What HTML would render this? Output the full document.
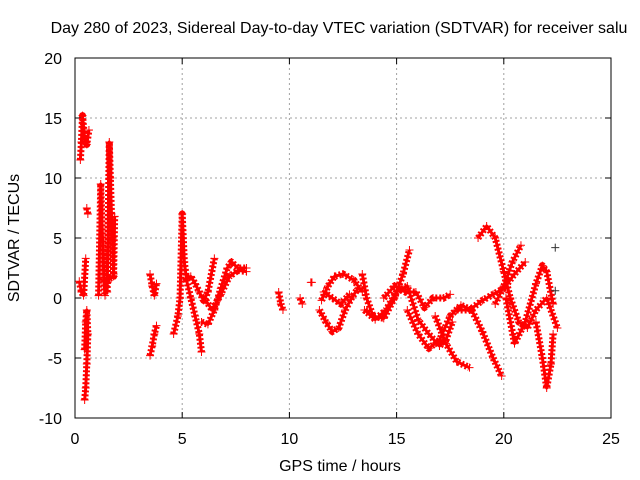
<!DOCTYPE html>
<html><head><meta charset="utf-8"><style>
body{margin:0;background:#fff;}
svg{display:block;font-family:"Liberation Sans",sans-serif;}
</style></head><body>
<svg id="chart" width="640" height="480">
<text x="339" y="33" font-size="16" text-anchor="middle">Day 280 of 2023, Sidereal Day-to-day VTEC variation (SDTVAR) for receiver salu</text>
<text x="340" y="471" font-size="16" text-anchor="middle">GPS time / hours</text>
<text transform="translate(19,238) rotate(-90)" font-size="16" text-anchor="middle">SDTVAR / TECUs</text>
<g id="grid"></g><g id="axes"></g><g id="marks"></g>
</svg>
<script>
const xTicks=[0,5,10,15,20,25];
const yTicks=[-10,-5,0,5,10,15,20];
const seriesRed=[
[[0.25,11.5],[0.3,13],[0.35,15.2],[0.45,13.3],[0.55,12.8],[0.65,14]],
[[0.2,1.4],[0.3,0.5],[0.4,0.2],[0.5,3.3]],
[[0.55,7.5],[0.6,7]],
[[0.45,-4.3],[0.5,-2],[0.55,-1],[0.6,-3],[0.55,-5.5],[0.5,-7.5],[0.45,-8.5]],
[[1.1,0.2],[1.2,9.5],[1.3,4],[1.35,1.5],[1.4,0.2]],
[[1.5,0.5],[1.6,13],[1.65,10],[1.7,7],[1.75,5],[1.8,2]],
[[1.45,1],[1.6,1.6],[1.8,1.8],[1.85,6.8]],
[[3.5,2],[3.6,1],[3.7,0.2],[3.8,1.2]],
[[3.5,-4.8],[3.6,-4],[3.7,-3],[3.8,-2.3]],
[[4.6,-3],[4.8,-1.5],[4.9,0],[5.0,7],[5.1,3],[5.2,1.6],[5.4,1.8],[5.6,1.2],[5.8,0.5],[6.0,-0.2],[6.2,0.5],[6.5,3.3]],
[[5.2,1.5],[5.4,0],[5.6,-1.5],[5.8,-3],[5.9,-4.5]],
[[5.9,-2],[6.2,-2.2],[6.5,-1],[6.8,0.8],[7.1,2.5],[7.3,3],[7.6,2.5],[8.0,2.5]],
[[6.1,-0.2],[6.4,-1],[6.8,0.3],[7.2,1.8],[7.6,2.3],[8.0,2.2]],
[[9.5,0.5],[9.6,-0.5],[9.7,-1]],
[[10.5,0],[10.6,-0.5]],[[11.0,1.3],[11.05,1.3]],
[[11.5,-0.2],[11.8,1],[12.1,1.8],[12.5,2],[13.0,1.5],[13.4,0.5]],
[[11.4,-1],[11.7,-2],[12.0,-2.8],[12.3,-2.5],[12.6,-1],[12.9,0],[13.2,0.8]],
[[11.6,0.5],[12.0,0],[12.4,-0.5],[12.8,0.3]],
[[13.4,2],[13.6,0],[13.9,-1.5],[14.4,-1.7],[14.9,0],[15.3,2],[15.6,4]],
[[13.5,-1],[14.0,-1.8],[14.5,-1],[15.0,0.5],[15.5,1],[16.0,-1.8],[16.5,-3],[17.0,-4],[17.3,-3.5],[17.6,-2]],
[[14.4,0],[14.9,1],[15.4,0.5],[15.9,0.5],[16.3,-0.8],[16.7,0],[17.2,0],[17.5,0.3]],
[[15.5,-1],[16.0,-3],[16.5,-4.2],[17.0,-3.5],[17.5,-1.5],[18.0,-0.6],[18.5,-1],[19.0,-2.8],[19.5,-5],[19.9,-6.5]],
[[16.8,-1.5],[17.3,-3.8],[17.8,-5.3],[18.4,-5.8]],
[[17.8,-1],[18.4,-1],[19.0,-0.2],[19.5,0.3],[20.0,0.8],[20.5,2],[21.0,3]],
[[18.8,5],[19.2,6],[19.6,5],[20.0,2.2],[20.3,0],[20.7,-2],[21.1,-2.5],[21.5,-1],[22.0,0],[22.5,-2.5]],
[[19.6,-0.5],[20.0,1],[20.4,3],[20.8,4.4]],
[[20.1,0],[20.5,-3.8],[21.0,-2],[21.5,1.2],[21.8,2.7],[22.0,2.2],[22.3,-0.5]],
[[21.5,-2],[21.8,-5],[22.0,-7.5],[22.2,-5.5],[22.3,-3]]
];
const seriesBlack=[[22.4,4.2],[22.4,0.6]];
const X0=75,X1=611,Y0=418,Y1=58;
const sx=v=>X0+(v-0)/(25-0)*(X1-X0);
const sy=v=>Y0-(v+10)/30*(Y0-Y1);
const NS="http://www.w3.org/2000/svg";
function mk(tag,attrs,parent){const e=document.createElementNS(NS,tag);for(const k in attrs)e.setAttribute(k,attrs[k]);parent.appendChild(e);return e;}
const grid=document.getElementById('grid'),axes=document.getElementById('axes'),marks=document.getElementById('marks');
xTicks.forEach(t=>{
 if(t>0&&t<25){const l=mk('line',{x1:sx(t),x2:sx(t),y1:Y1,y2:Y0,stroke:'#a0a0a0','stroke-dasharray':'2,3'},grid);
 
 }
 const tx=mk('text',{x:sx(t),y:Y0+26,'font-size':16,'text-anchor':'middle'},axes);tx.textContent=t;
 
 
 mk('line',{x1:sx(t),x2:sx(t),y1:Y0,y2:Y0-6,stroke:'#000'},axes);
 mk('line',{x1:sx(t),x2:sx(t),y1:Y1,y2:Y1+6,stroke:'#000'},axes);
});
yTicks.forEach(t=>{
 if(t>-10&&t<20){const l=mk('line',{x1:X0,x2:X1,y1:sy(t),y2:sy(t),stroke:'#a0a0a0','stroke-dasharray':'2,3'},grid);
 
 }
 const tx=mk('text',{x:X0-13,y:sy(t)+6,'font-size':16,'text-anchor':'end'},axes);tx.textContent=t;
 
 
 mk('line',{x1:X0,x2:X0+6,y1:sy(t),y2:sy(t),stroke:'#000'},axes);
 mk('line',{x1:X1,x2:X1-6,y1:sy(t),y2:sy(t),stroke:'#000'},axes);
});
const frame=mk('rect',{x:X0,y:Y1,width:X1-X0,height:Y0-Y1,fill:'none',stroke:'#000'},axes);


function plus(x,y,c,p){mk('path',{d:`M${x-4},${y}h8M${x},${y-4}v8`,stroke:c,'stroke-width':1},p);}
seriesRed.forEach(tr=>{
 const pts=tr.map(p=>sx(p[0])+','+sy(p[1])).join(' ');
 const g=mk('g',{},marks);
 
 
 mk('polyline',{points:pts,fill:'none',stroke:'#f00','stroke-width':7,'stroke-linejoin':'round','stroke-dasharray':'2,2'},g);
 mk('polyline',{points:pts,fill:'none',stroke:'#f00','stroke-width':3,'stroke-linejoin':'round'},g);
 tr.forEach(p=>plus(sx(p[0]),sy(p[1]),'#f00',g));
});
seriesBlack.forEach(p=>{const g=mk('g',{},marks);
 
 
 plus(sx(p[0]),sy(p[1]),'#333',g);});
</script>
</body></html>
